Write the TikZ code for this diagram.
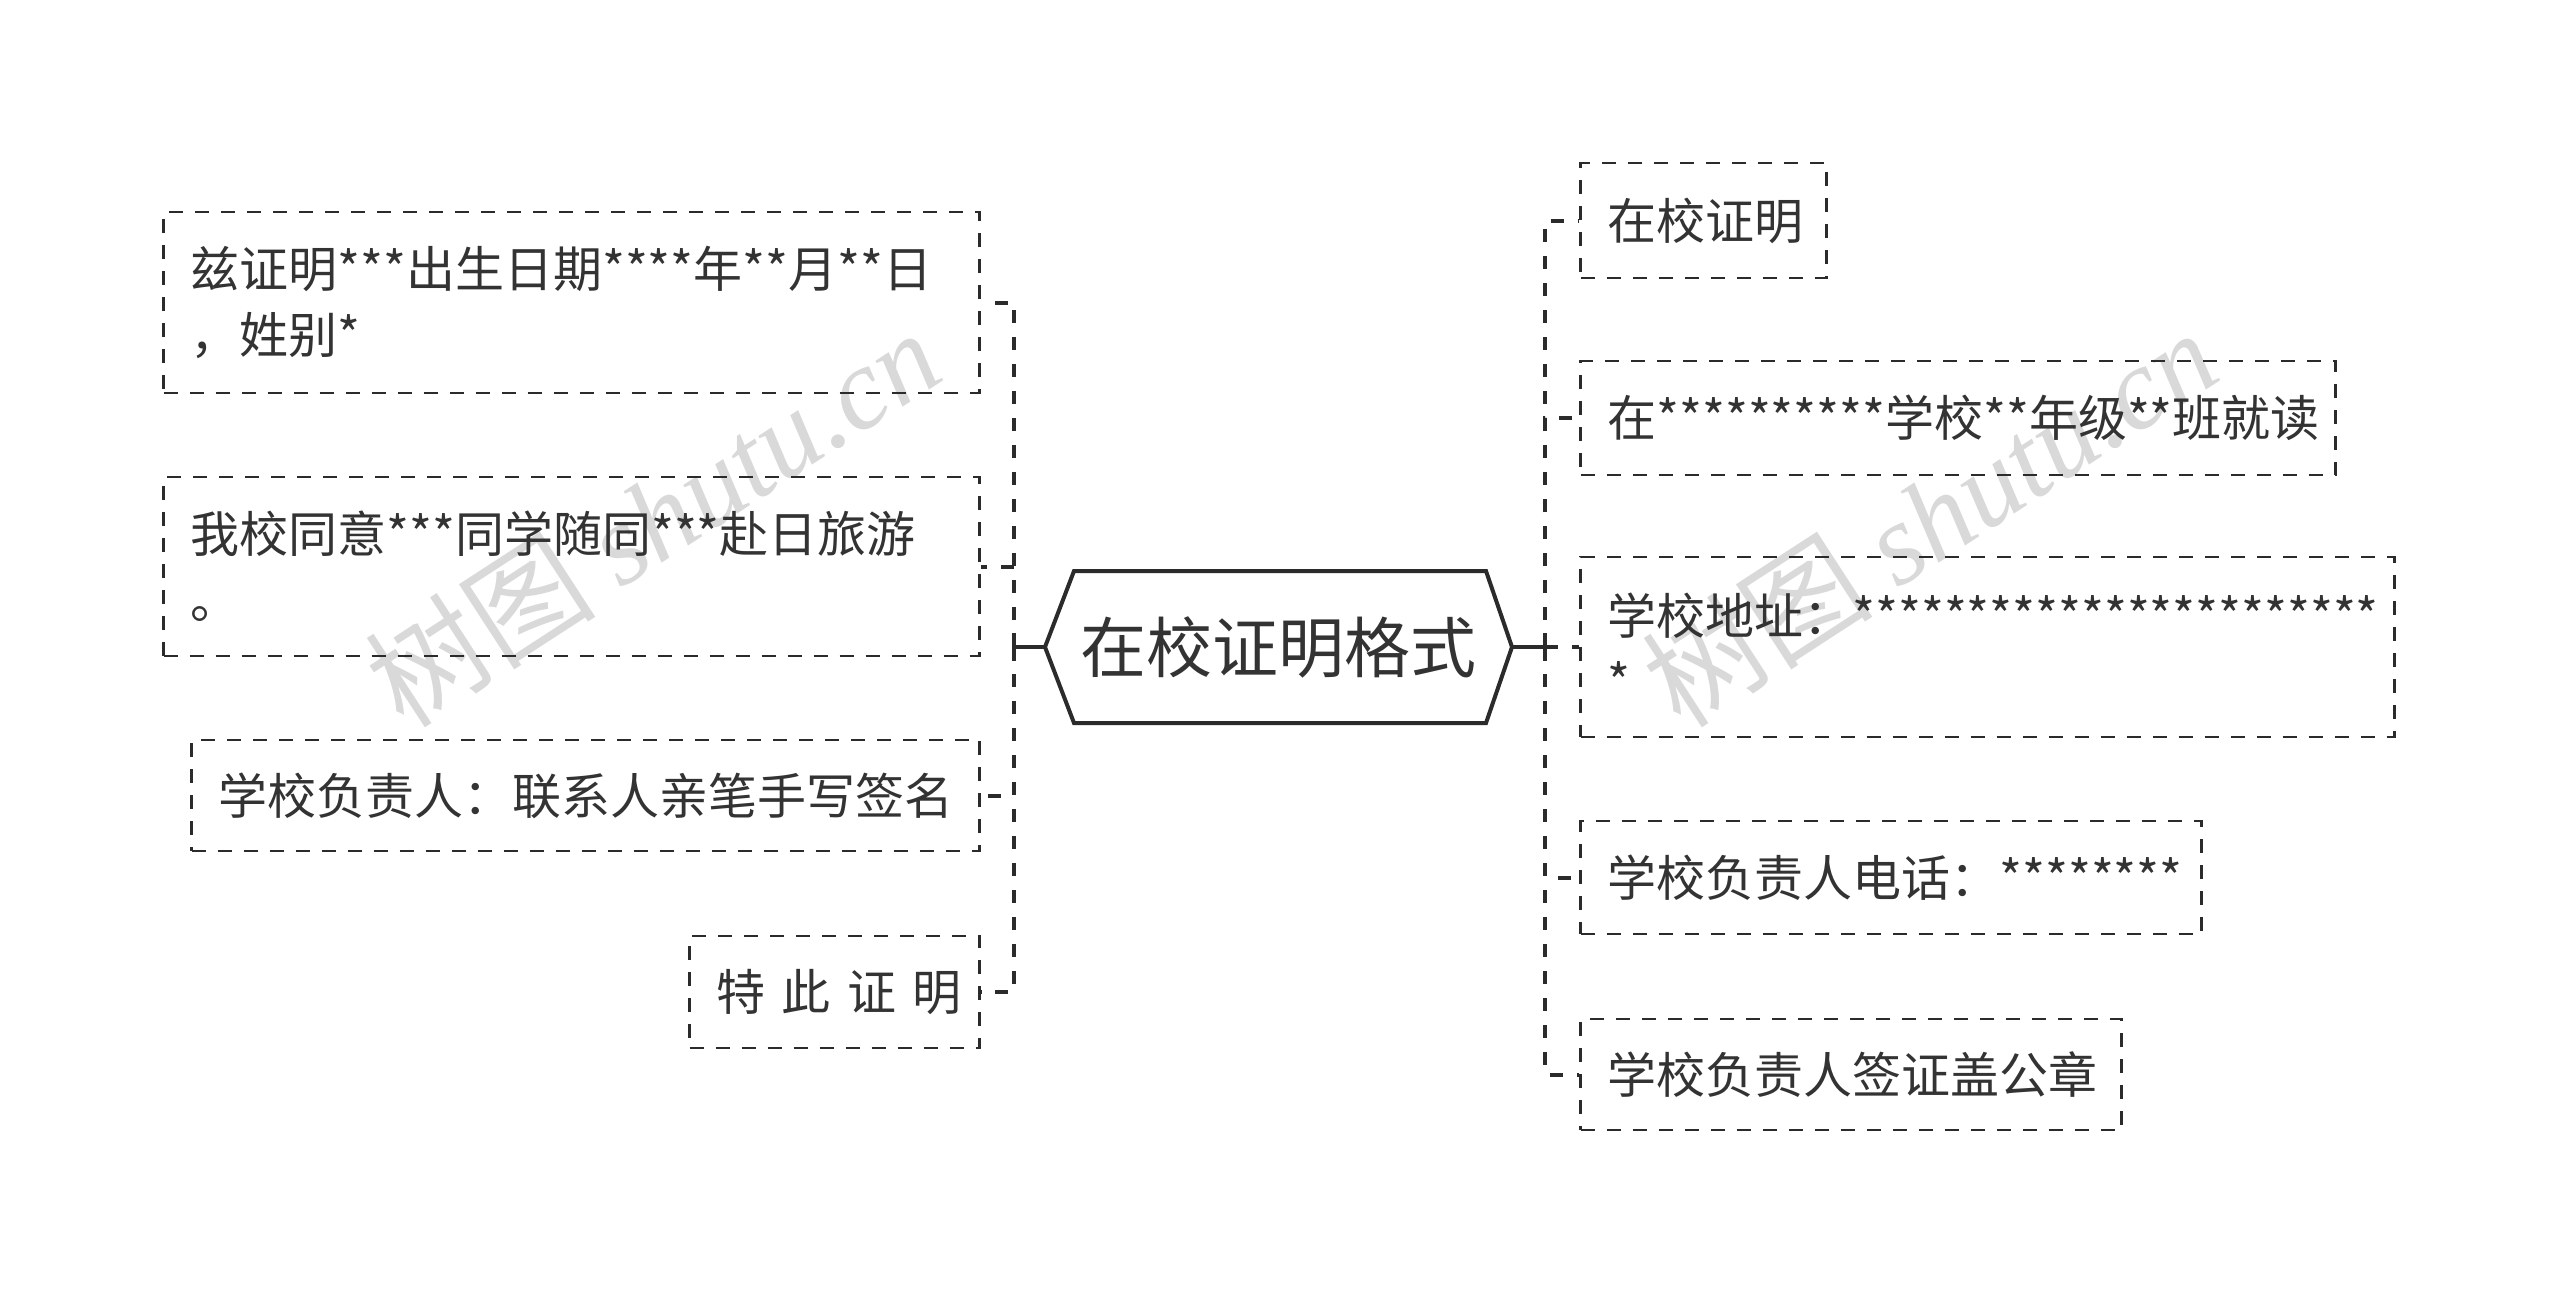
\documentclass[tikz,border=0pt]{standalone}
\usepackage{fontspec}
\setmainfont{Noto Sans CJK SC}
\newfontfamily\wmserif{Liberation Serif}
\usetikzlibrary{calc}
\definecolor{ink}{HTML}{2B2B2B}
\definecolor{txt}{HTML}{333333}
\definecolor{wm}{HTML}{D9D9D9}
\begin{document}
\begin{tikzpicture}[x=0.5pt,y=-0.5pt,
  box/.style={draw=ink, line width=1.1pt, dash pattern=on 7pt off 6pt,
    inner xsep=13.5pt, inner ysep=0pt, align=left, text=txt,
    font=\fontsize{24.5}{33}\selectfont, anchor=center},
  conn/.style={draw=ink, line width=2pt, dash pattern=on 6.5pt off 7pt},
  stem/.style={draw=ink, line width=2pt},
  hexa/.style={draw=ink, line width=2pt, line join=miter},
  wmark/.style={text=wm, rotate=33, font=\fontsize{58}{64}\selectfont, inner sep=0pt}
]
\useasboundingbox (0,0) rectangle (2560,1297);

% watermarks
\node[wmark] (wm1) at (652,517) {树图 {\wmserif\itshape shutu.cn}};
\node[wmark] (wm2) at (1929,517) {树图 {\wmserif\itshape shutu.cn}};

% central topic
\node[text=txt, font=\fontsize{33}{40}\selectfont, inner sep=0pt] (c) at (1278,647) {在校证明格式};
\coordinate (cL) at (1045,647);
\coordinate (cR) at (1512,647);
\draw[hexa] (cL) -- (1074,571) -- (1486,571) -- (cR) -- (1486,723) -- (1074,723) -- cycle;

% left branches
\node[box, text width=381pt, minimum height=90.5pt] (b1) at (571.5,302.5) {兹证明***出生日期****年**月**日\\，姓别*};
\node[box, text width=381pt, minimum height=89.5pt] (b2) at (571.5,566.5) {我校同意***同学随同***赴日旅游\\。};
\node[box, text width=367pt, minimum height=55.5pt] (b3) at (585.5,795.5) {学校负责人：联系人亲笔手写签名};
\node[box, text width=118pt, minimum height=56pt] (b4) at (834.5,992) {\mbox{特 此 证 明}};

% right branches
\node[box, text width=96pt, minimum height=57.5pt] (r1) at (1703.5,220.5) {在校证明};
\node[box, text width=350.5pt, minimum height=57pt] (r2) at (1958,418) {在**********学校**年级**班就读};
\node[box, text width=380pt, minimum height=90pt] (r3) at (1987.5,647) {学校地址：***********************\\{}*};
\node[box, text width=283.5pt, minimum height=56.5pt] (r4) at (1891,877.5) {学校负责人电话：********};
\node[box, text width=243.5pt, minimum height=55.5pt] (r5) at (1851,1074.5) {学校负责人签证盖公章};

% connectors left
\coordinate (tL) at (1014,647);
\draw[stem] (cL) -- (tL);
\draw[stem] ($(tL)+(0,-14)$) -- ($(tL)+(0,14)$);
\foreach \n in {b1,b2,b3,b4} \draw[conn] (tL) |- (\n.east);

% connectors right
\coordinate (tR) at (1545,647);
\draw[stem] (cR) -- (tR);
\draw[stem] ($(tR)+(0,-14)$) -- ($(tR)+(0,14)$);
\foreach \n in {r1,r2,r3,r4,r5} \draw[conn] (tR) |- (\n.west);
\end{tikzpicture}
\end{document}
